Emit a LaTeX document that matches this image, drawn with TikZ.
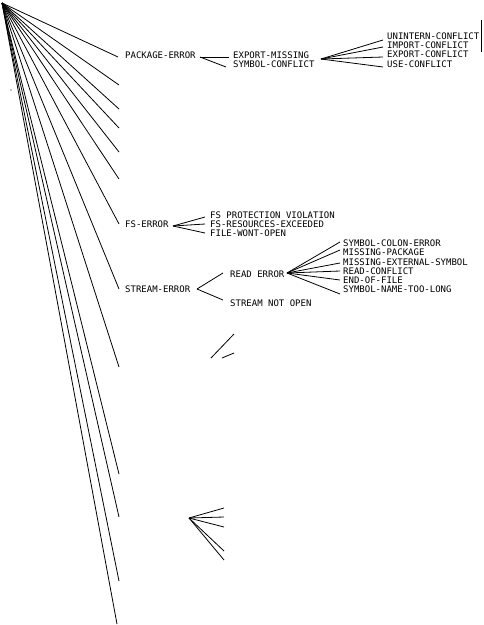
\documentclass[tikz,border=0pt]{standalone}
\usepackage{fontspec}
\newfontfamily\plotfont{DejaVu Sans Mono}
\begin{document}
\begin{tikzpicture}[x=1pt,y=-1pt,
  lbl/.style={anchor=west,inner sep=0pt,font=\plotfont\fontsize{9}{9}\selectfont,text height=6.6pt,text depth=0pt},
  conn/.style={line width=0.8pt}]
\useasboundingbox (0,0) rectangle (483,625);
% labels
\node[lbl] (pkg)  at (125,55) {PACKAGE-ERROR};
\node[lbl] (expm) at (233,55) {EXPORT-MISSING};
\node[lbl] (symc) at (233,64) {SYMBOL-CONFLICT};
\node[lbl] (unint) at (387,36) {UNINTERN-CONFLICT};
\node[lbl] (impc) at (387,45) {IMPORT-CONFLICT};
\node[lbl] (expc) at (387,54) {EXPORT-CONFLICT};
\node[lbl] (usec) at (387,64) {USE-CONFLICT};
\node[lbl] (fse)  at (125,224) {FS-ERROR};
\node[lbl] (fspv) at (210,215) {FS PROTECTION VIOLATION};
\node[lbl] (fsre) at (210,224) {FS-RESOURCES-EXCEEDED};
\node[lbl] (fwo)  at (210,233) {FILE-WONT-OPEN};
\node[lbl] (se)   at (125,289) {STREAM-ERROR};
\node[lbl] (rde)  at (230,274) {READ ERROR};
\node[lbl] (sno)  at (230,303) {STREAM NOT OPEN};
\node[lbl] (sce)  at (343,243) {SYMBOL-COLON-ERROR};
\node[lbl] (mp)   at (343,252) {MISSING-PACKAGE};
\node[lbl] (mes)  at (343,262) {MISSING-EXTERNAL-SYMBOL};
\node[lbl] (rc)   at (343,271) {READ-CONFLICT};
\node[lbl] (eof)  at (343,280) {END-OF-FILE};
\node[lbl] (sntl) at (343,289) {SYMBOL-NAME-TOO-LONG};
% coordinates
\coordinate (root) at (2,3);
\coordinate (pa) at (200,57);
\coordinate (ea) at (321,59);
\coordinate (fa) at (173,226);
\coordinate (sa) at (197,289);
\coordinate (ra) at (287,273);
\coordinate (xa) at (189,518);
\foreach \n/\y in {r1/85,r2/109,r3/128,r4/152,r5/179,r6/367,r7/474,r8/517,r9/581}
  \coordinate (\n) at (119,\y);
\coordinate (r10) at (117,624);
\foreach \n/\y in {x1/508,x2/517,x3/527,x4/551,x5/560}
  \coordinate (\n) at (224,\y);
\coordinate (f1a) at (211,358);
\coordinate (f1b) at (234,334);
\coordinate (f2a) at (222,358);
\coordinate (f2b) at (234,353);
\coordinate (b1) at (481,20);
\coordinate (b2) at (481,52);
% root fan
\draw[conn] (root) -- ([xshift=-7pt,yshift=-2pt]pkg.west);
\draw[conn] (root) -- ([xshift=-6pt]fse.west);
\draw[conn] (root) -- ([xshift=-6pt]se.west);
\foreach \n in {r1,r2,r3,r4,r5,r6,r7,r8,r9,r10}
  \draw[conn] (root) -- (\n);
% package-error
\draw[conn] (pa) -- ([xshift=-4pt,yshift=-2pt]expm.west);
\draw[conn] (pa) -- ([xshift=-7pt,yshift=-3pt]symc.west);
\draw[conn] (ea) -- ([xshift=-4pt,yshift=-4pt]unint.west);
\draw[conn] (ea) -- ([xshift=-4pt,yshift=-2pt]impc.west);
\draw[conn] (ea) -- ([xshift=-4pt,yshift=-3pt]expc.west);
\draw[conn] (ea) -- ([xshift=-4pt,yshift=-3pt]usec.west);
% fs-error
\draw[conn] (fa) -- ([xshift=-5pt,yshift=-2pt]fspv.west);
\draw[conn] (fa) -- ([xshift=-5pt]fsre.west);
\draw[conn] (fa) -- ([xshift=-5pt]fwo.west);
% stream-error
\draw[conn] (sa) -- ([xshift=-7pt,yshift=1pt]rde.west);
\draw[conn] (sa) -- ([xshift=-7pt,yshift=3pt]sno.west);
\draw[conn] (ra) -- ([xshift=-3pt,yshift=1pt]sce.west);
\draw[conn] (ra) -- ([xshift=-3pt,yshift=2pt]mp.west);
\draw[conn] (ra) -- ([xshift=-3pt,yshift=-1pt]mes.west);
\draw[conn] (ra) -- ([xshift=-3pt]rc.west);
\draw[conn] (ra) -- ([xshift=-3pt]eof.west);
\draw[conn] (ra) -- ([xshift=-3pt,yshift=-5pt]sntl.west);
% fragments
\draw[conn] (f1a) -- (f1b);
\draw[conn] (f2a) -- (f2b);
\foreach \n in {x1,x2,x3,x4,x5}
  \draw[conn] (xa) -- (\n);
\draw[conn] (b1) -- (b2);
\fill (11,90) circle (0.7pt);
\end{tikzpicture}
\end{document}
